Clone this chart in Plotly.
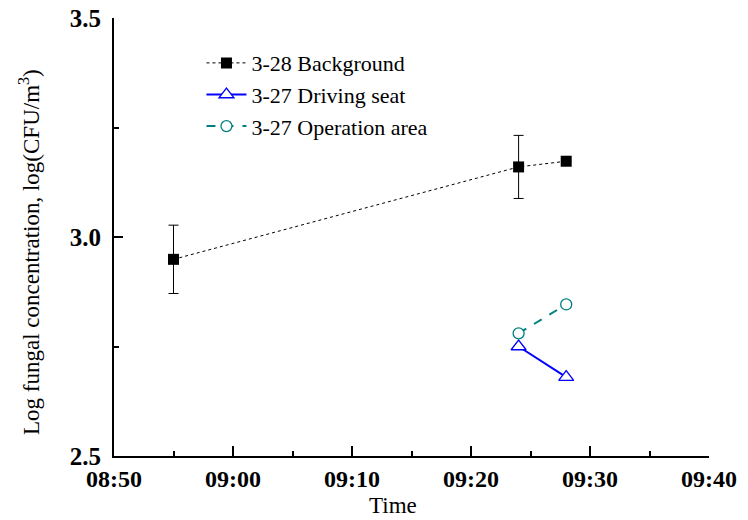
import plotly.graph_objects as go

# Data
bg_times = ["2024-03-28 08:55", "2024-03-28 09:24", "2024-03-28 09:28"]
bg_values = [2.949, 3.160, 3.173]
bg_errors = [0.078, 0.072, 0.0]

ds_times = ["2024-03-28 09:24", "2024-03-28 09:28"]
ds_values = [2.750, 2.680]

op_times = ["2024-03-28 09:24", "2024-03-28 09:28"]
op_values = [2.780, 2.846]

x_range = ["2024-03-28 08:50", "2024-03-28 09:40"]
y_range = [2.5, 3.5]
y_ticks = [2.5, 3.0, 3.5]
y_ticklabels = ["2.5", "3.0", "3.5"]

x_title = "Time"
y_title = "Log fungal concentration, log(CFU/m<sup>3</sup>)"

FONT = "Liberation Serif"

fig = go.Figure()

fig.add_trace(go.Scatter(
    x=bg_times, y=bg_values, name="3-28 Background", mode="lines+markers",
    line=dict(color="black", width=1, dash="dot"),
    marker=dict(symbol="square", size=11, color="black"),
    error_y=dict(type="data", array=bg_errors, color="black", thickness=1, width=5),
    legendgroup="a",
))
fig.add_trace(go.Scatter(
    x=ds_times, y=ds_values, name="3-27 Driving seat", mode="lines+markers",
    line=dict(color="#0000ff", width=2),
    marker=dict(symbol="triangle-up", size=13, color="white",
                line=dict(color="#0000ff", width=1.3)),
    legendgroup="b",
))
fig.add_trace(go.Scatter(
    x=op_times, y=op_values, name="3-27 Operation area", mode="lines+markers",
    line=dict(color="#008080", width=2, dash="dash"),
    marker=dict(symbol="circle", size=11, color="white",
                line=dict(color="#008080", width=1.3)),
    legendgroup="c",
))

fig.update_layout(
    width=740, height=512,
    margin=dict(l=106, r=39, t=10, b=64, autoexpand=False),
    paper_bgcolor="white", plot_bgcolor="white",
    font=dict(family=FONT, color="black"),
    showlegend=True,
    legend=dict(
        x=0.147, y=0.945, xanchor="left", yanchor="top",
        font=dict(family=FONT, size=22, color="black"),
        bgcolor="rgba(0,0,0,0)",
        traceorder="grouped", tracegroupgap=0,
        itemwidth=40,
    ),
    annotations=[
        dict(text=y_title, xref="paper", yref="paper", x=-0.141, y=0.466,
             textangle=-90, showarrow=False, xanchor="center", yanchor="middle",
             font=dict(family=FONT, size=23, color="black")),
        dict(text=x_title, xref="paper", yref="paper", x=0.469, y=-0.112,
             showarrow=False, xanchor="center", yanchor="middle",
             font=dict(family=FONT, size=23, color="black")),
    ],
)

fig.update_xaxes(
    type="date", range=x_range, automargin=False,
    tickformat="%H:%M", dtick=600000, tick0="2024-03-28 08:50",
    ticks="inside", ticklen=10, tickwidth=1.5, tickcolor="black",
    minor=dict(ticks="inside", ticklen=5, tickwidth=1.5, tickcolor="black", dtick=300000, showgrid=False),
    showline=True, linecolor="black", linewidth=2,
    showgrid=False, zeroline=False,
    tickfont=dict(family=FONT, size=24, color="black", weight="bold"),
    ticklabelstandoff=0, ticklabeloverflow="allow",
)
fig.update_yaxes(
    range=y_range, tickvals=y_ticks, ticktext=y_ticklabels, automargin=False,
    ticks="inside", ticklen=9, tickwidth=1.5, tickcolor="black",
    minor=dict(ticks="inside", ticklen=5, tickwidth=1.5, tickcolor="black", dtick=0.25, tick0=2.5, showgrid=False),
    showline=True, linecolor="black", linewidth=2,
    showgrid=False, zeroline=False,
    tickfont=dict(family=FONT, size=25, color="black", weight="bold"),
    ticklabelstandoff=6, ticklabeloverflow="allow",
)

fig.write_html("out.html")
